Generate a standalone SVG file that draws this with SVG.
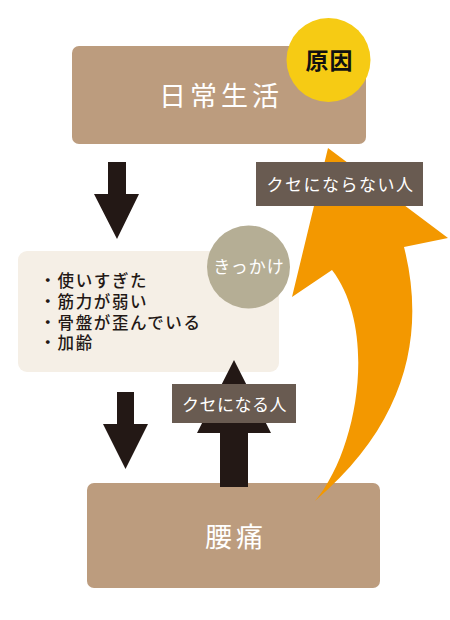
<svg xmlns="http://www.w3.org/2000/svg" width="450" height="620" viewBox="0 0 450 620">
<style>
text{font-family:"Noto Sans CJK JP","Noto Sans",sans-serif}
.box{fill:#BC9C7E}
.big{fill:#fff;font-size:27px;letter-spacing:4px;text-anchor:middle}
.lbl{fill:#695B51}
.lt{fill:#fff;font-size:17px;text-anchor:middle}
.arr{fill:#231815}
.li{fill:#231815;font-size:16.5px;letter-spacing:1.6px;font-weight:500}
</style>
<rect width="450" height="620" fill="#fff"/>
<g id="node-daily">
<rect class="box" x="72" y="46" width="294" height="98" rx="7"/>
<text class="big" x="221" y="106">日常生活</text>
</g>
<g id="badge-cause">
<circle cx="328.5" cy="60" r="42" fill="#F6CB14"/>
<text x="329.5" y="69" font-size="23" font-weight="bold" letter-spacing="1" text-anchor="middle" fill="#111">原因</text>
</g>
<g id="node-trigger">
<rect x="18" y="251" width="261" height="121" rx="9" fill="#F5EFE6"/>
<text class="li" x="39.5" y="287">・使いすぎた</text>
<text class="li" x="39.5" y="308">・筋力が弱い</text>
<text class="li" x="39.5" y="328.5">・骨盤が歪んでいる</text>
<text class="li" x="39.5" y="349">・加齢</text>
</g>
<g id="badge-trigger">
<circle cx="248.5" cy="267" r="41.5" fill="#B5AE95"/>
<text class="lt" x="249" y="273" letter-spacing="1">きっかけ</text>
</g>
<g id="node-backpain">
<rect class="box" x="87" y="483" width="293" height="105" rx="7"/>
<text class="big" x="236" y="547" font-size="28">腰痛</text>
</g>
<g id="connectors">
<polygon class="arr" points="108,162 126,162 126,194 139,194 117,239 94,194 108,194"/>
<polygon class="arr" points="117,392 134,392 134,424 148,424 125.5,469 103,424 117,424"/>
<polygon class="arr" points="220,487 248,487 248,433 271,433 234,360 197,433 220,433"/>
<rect class="lbl" x="172" y="384" width="124" height="39"/>
<text class="lt" x="234.5" y="410.5" letter-spacing="0.5">クセになる人</text>
<path fill="#F39800" d="M328,148 L448,238 L404,247 C425,330 410,420 315,501 C358,450 378,330 332,270 L292,297 Z"/>
<rect class="lbl" x="256" y="162" width="167" height="44"/>
<text class="lt" x="340.5" y="191" letter-spacing="1.5">クセにならない人</text>
</g>
</svg>
